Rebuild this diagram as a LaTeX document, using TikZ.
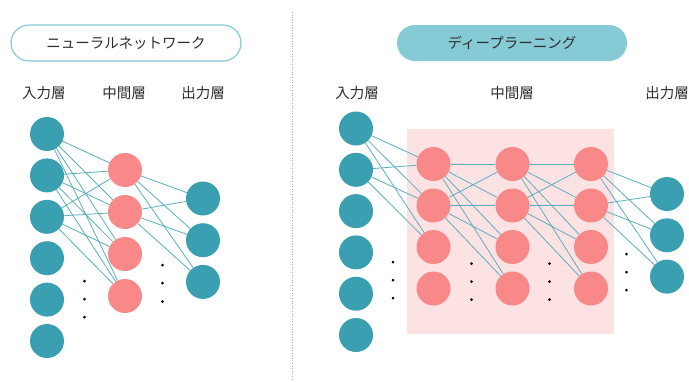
\documentclass[tikz,border=0pt]{standalone}
\usepackage{fontspec}
\newfontfamily\jp{Noto Sans CJK JP}
\definecolor{tealc}{HTML}{3A9FB1}
\definecolor{pinkc}{HTML}{F98888}
\definecolor{rectc}{HTML}{FDE2E4}
\definecolor{edgec}{HTML}{5AAFBE}
\definecolor{pillc}{HTML}{86CAD6}
\definecolor{txtc}{HTML}{2E2E2E}
\pgfdeclarelayer{bg}
\pgfdeclarelayer{edges}
\pgfsetlayers{bg,edges,main}
\begin{document}
\begin{tikzpicture}[x=1pt,y=-1pt,
  inp/.style={circle,fill=tealc,minimum size=34pt,inner sep=0pt},
  hid/.style={circle,fill=pinkc,minimum size=34pt,inner sep=0pt},
  conn/.style={draw=edgec,line width=0.8pt},
  lbl/.style={font=\jp\fontsize{14.5}{16}\selectfont,text=txtc,inner sep=0pt},
  pill/.style={rounded corners=18pt,minimum width=230pt,minimum height=36pt,inner sep=0pt,font=\jp\fontsize{14.5}{16}\selectfont,text=txtc}]
\useasboundingbox (0,0) rectangle (689,381);
\begin{pgfonlayer}{bg}
\fill[white] (0,0) rectangle (689,381);
\fill[rectc] (407,129) rectangle (614,334);
\end{pgfonlayer}
% separator
\draw[gray!60,dotted,line width=0.6pt] (292,12) -- (292,381);
% titles
\node[pill,draw=pillc,line width=1.2pt,fill=white] (t1) at (126,43) {ニューラルネットワーク};
\node[pill,fill=pillc] (t2) at (512,43) {ディープラーニング};
% layer labels
\node[lbl] (l1) at (44,93) {入力層};
\node[lbl] (l2) at (124,93) {中間層};
\node[lbl] (l3) at (203,93) {出力層};
\node[lbl] (r1) at (357,93) {入力層};
\node[lbl] (r2) at (512,93) {中間層};
\node[lbl] (r3) at (667,93) {出力層};
% left network
\foreach \i in {0,...,5} \node[inp] (a\i) at (47,134+41.4*\i) {};
\foreach \i in {0,...,3} \node[hid] (b\i) at (125,170+42*\i) {};
\foreach \i in {0,...,2} \node[inp] (c\i) at (203,198.5+41.7*\i) {};
\begin{pgfonlayer}{edges}
\foreach \i in {0,1,2} \foreach \j in {0,...,3} \draw[conn] (a\i) -- (b\j);
\foreach \i in {0,1} \foreach \j in {0,1,2} \draw[conn] (b\i) -- (c\j);
\end{pgfonlayer}
\foreach \y in {281,299,317} \fill (84.5,\y) circle (1.5pt);
\foreach \y in {265,283,301.5} \fill (162.5,\y) circle (1.5pt);
% right network
\foreach \i in {0,...,5} \node[inp] (p\i) at (356,128.5+41.3*\i) {};
\foreach \i in {0,...,3} \node[hid] (h\i) at (433.5,164+41.5*\i) {};
\foreach \i in {0,...,3} \node[hid] (k\i) at (512.5,164+41.5*\i) {};
\foreach \i in {0,...,3} \node[hid] (m\i) at (591,164+41.5*\i) {};
\foreach \i in {0,...,2} \node[inp] (q\i) at (667,194+41.3*\i) {};
\begin{pgfonlayer}{edges}
\foreach \i in {0,1} \foreach \j in {0,1,2} \draw[conn] (p\i) -- (h\j);
\foreach \i in {0,1} \foreach \j in {0,...,3} \draw[conn] (h\i) -- (k\j);
\foreach \i in {0,1} \foreach \j in {0,...,3} \draw[conn] (k\i) -- (m\j);
\foreach \i in {0,1} \foreach \j in {0,1,2} \draw[conn] (m\i) -- (q\j);
\end{pgfonlayer}
\foreach \y in {262,280,298} \fill (393,\y) circle (1.5pt);
\foreach \y in {263.5,281.5,299.5} \fill (471.5,\y) circle (1.5pt);
\foreach \y in {263.5,281.5,299.5} \fill (549.5,\y) circle (1.5pt);
\foreach \y in {254,272,290} \fill (626.5,\y) circle (1.5pt);
\end{tikzpicture}
\end{document}
